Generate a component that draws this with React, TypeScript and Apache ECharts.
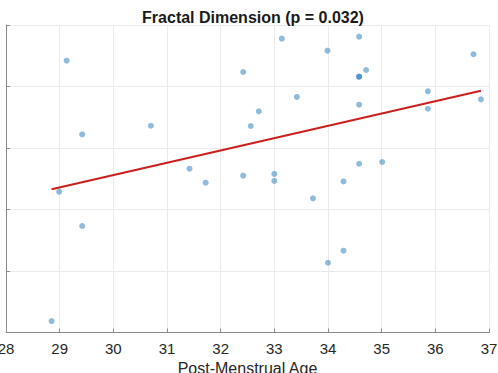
import React, { useEffect, useRef } from "react";
import * as echarts from "echarts";

// Post-menstrual age (weeks) for each subject
const ages = [
  29.13, 29.42, 28.99, 29.42, 28.85, 30.7, 31.42, 31.72, 32.42, 32.42,
  32.56, 32.71, 33.0, 33.0, 33.14, 33.42, 33.72, 33.99, 34.0, 34.29,
  34.29, 34.58, 34.58, 34.58, 34.71, 34.58, 34.58, 35.01, 35.86, 35.86,
  36.71, 36.85,
];

// Fractal dimension measured for each subject
const fractalDims = [
  1.521, 1.461, 1.4145, 1.3866, 1.3093, 1.4681, 1.4332, 1.4218, 1.5118, 1.4275,
  1.4679, 1.4798, 1.4289, 1.4232, 1.5389, 1.4915, 1.4091, 1.5291, 1.3567, 1.4228,
  1.3665, 1.5405, 1.508, 1.508, 1.5134, 1.4852, 1.4372, 1.4386, 1.4961, 1.4819,
  1.5262, 1.4896,
];

// Least-squares fit endpoints (x, y)
const fitX = [28.85, 36.85];
const fitY = [1.4164, 1.4966];

const xTicks = { min: 28, max: 37, step: 1 };
const yTicks = { min: 1.3, max: 1.55, step: 0.05 };

const FONT = "'Liberation Sans', Arial, Helvetica, sans-serif";

export default function App() {
  const ref = useRef<HTMLDivElement>(null);

  useEffect(() => {
    if (!ref.current) return;
    const chart = echarts.init(ref.current, undefined, { renderer: "svg" });
    const points = ages.map((a, i) => [a, fractalDims[i]]);
    const fit = fitX.map((x, i) => [x, fitY[i]]);

    chart.setOption({
      animation: false,
      backgroundColor: "#ffffff",
      textStyle: { fontFamily: FONT },
      title: {
        text: "Fractal Dimension (p = 0.032)",
        left: 248,
        textAlign: "center",
        top: 4,
        textStyle: {
          fontFamily: FONT,
          fontSize: 16,
          fontWeight: "bold",
          color: "#1a1a1a",
        },
      },
      grid: {
        left: 6,
        right: 9,
        top: 25,
        bottom: 40.5,
        containLabel: false,
        outerBoundsMode: "none",
      },
      xAxis: {
        type: "value",
        min: xTicks.min,
        max: xTicks.max,
        interval: xTicks.step,
        name: "Post-Menstrual Age",
        nameLocation: "middle",
        nameGap: 24,
        nameTextStyle: { fontFamily: FONT, fontSize: 16, color: "#262626" },
        axisLine: { show: true, lineStyle: { color: "#8a8a8a", width: 1 } },
        axisTick: { show: true, inside: true, length: 4, lineStyle: { color: "#8a8a8a" } },
        axisLabel: { fontFamily: FONT, fontSize: 15, color: "#262626", margin: 8 },
        splitLine: { show: true, lineStyle: { color: "#ebebeb", width: 1 } },
      },
      yAxis: {
        type: "value",
        min: yTicks.min,
        max: yTicks.max,
        interval: yTicks.step,
        axisLine: { show: true, lineStyle: { color: "#8a8a8a", width: 1 } },
        axisTick: { show: true, inside: true, length: 4, lineStyle: { color: "#8a8a8a" } },
        axisLabel: { show: false },
        splitLine: { show: true, lineStyle: { color: "#ebebeb", width: 1 } },
      },
      series: [
        {
          type: "scatter",
          data: points,
          symbol: "circle",
          symbolSize: 6,
          itemStyle: { color: "rgba(0, 100, 178, 0.55)" },
          z: 3,
        },
        {
          type: "line",
          data: fit,
          symbol: "none",
          lineStyle: { color: "#cc1e1e", width: 2 },
          z: 4,
        },
      ],
    });

    return () => chart.dispose();
  }, []);

  return (
    <div
      ref={ref}
      style={{ position: "fixed", left: 0, top: 0, width: 498, height: 373 }}
    />
  );
}
